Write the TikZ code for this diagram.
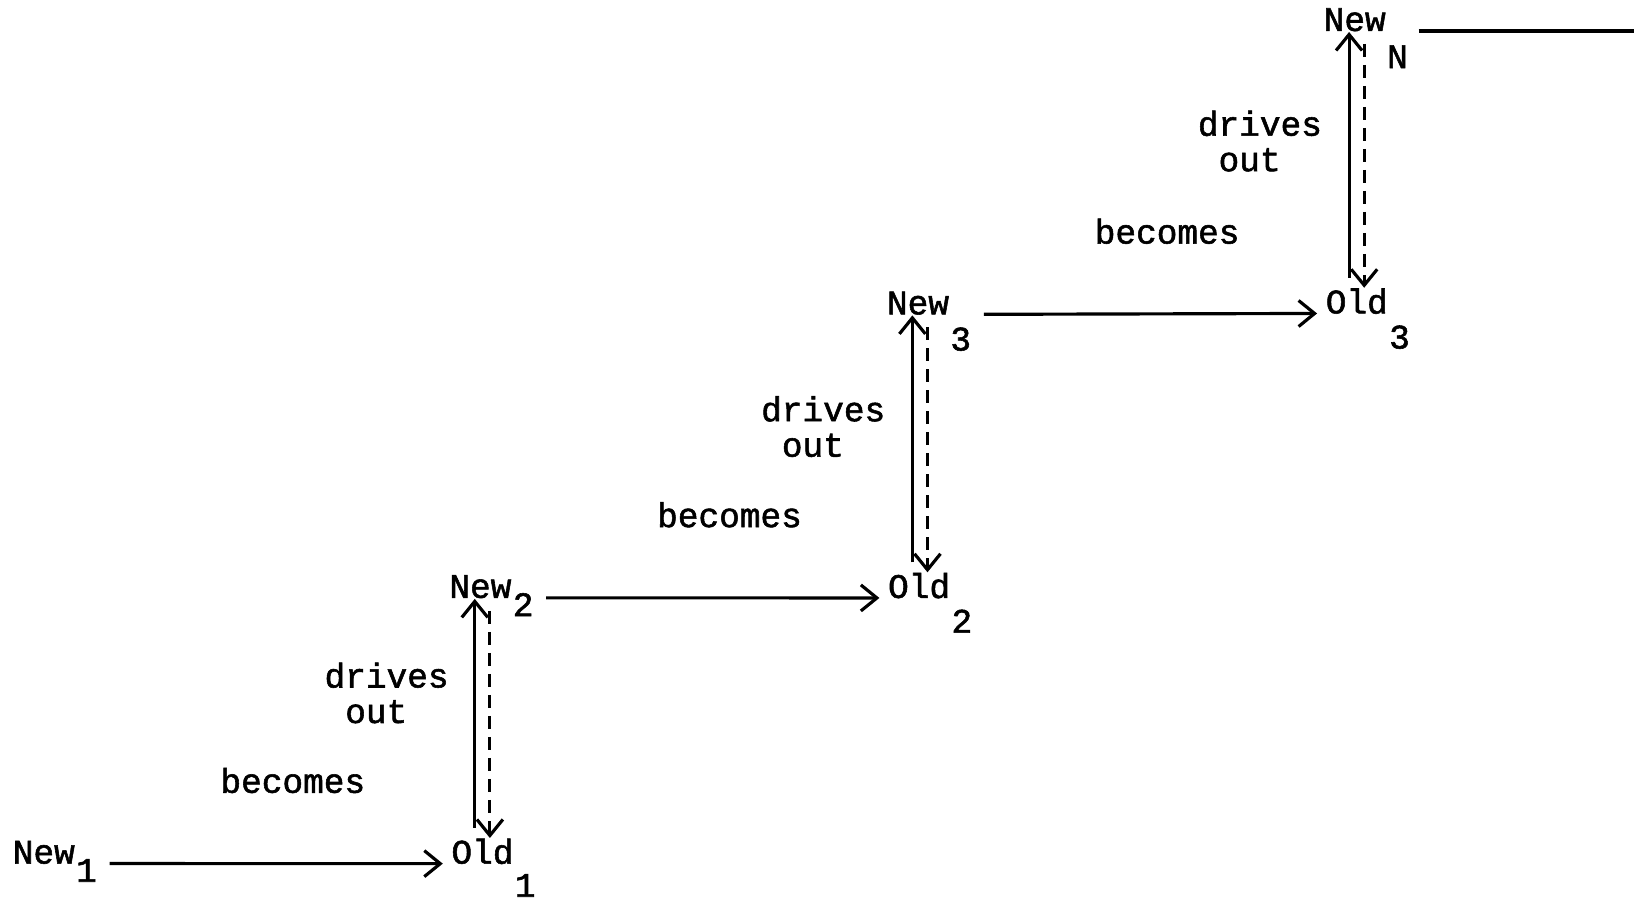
\documentclass[tikz,border=0pt]{standalone}
\usepackage{fontspec}
\newfontfamily\typefont[FakeBold=1.6,AutoFakeBold=1.6]{Liberation Mono}
\usepackage{tikz}
\usetikzlibrary{arrows.meta, positioning}

\begin{document}
\begin{tikzpicture}[
        word/.style={inner sep=0pt, font=\typefont\bfseries\fontsize{9.8}{10.1}\selectfont},
        note/.style={word, align=left},
        arrow/.style={-{Straight Barb[length=1.6mm, width=2.6mm]}, line width=0.9pt, draw=black},
        darrow/.style={arrow, dash pattern=on 1.3mm off 0.8mm},
        hgap/.style={shorten <=0.12cm, shorten >=0.08cm}
    ]
        \useasboundingbox (0,0) rectangle (16.34,8.99);

        % words of the staircase
        \node[word] (new1) at (0.438,0.466) {New};
        \node[word] (old1) at (4.825,0.476) {Old};
        \node[word] (new2) at (4.804,3.123) {New};
        \node[word] (old2) at (9.191,3.133) {Old};
        \node[word] (new3) at (9.180,5.958) {New};
        \node[word] (old3) at (13.568,5.978) {Old};
        \node[word] (newN) at (13.547,8.792) {New};

        % typed subscripts
        \node[word, right=0pt of new1, yshift=-1.8mm] (new1s) {1};
        \node[word, right=0pt of old1, yshift=-3.4mm] (old1s) {1};
        \node[word, right=0pt of new2, yshift=-1.8mm] (new2s) {2};
        \node[word, right=0pt of old2, yshift=-3.55mm] (old2s) {2};
        \node[word, right=0pt of new3, yshift=-3.6mm] (new3s) {3};
        \node[word, right=0pt of old3, yshift=-3.6mm] (old3s) {3};
        \node[word, right=0pt of newN, yshift=-3.7mm] (newNs) {N};

        \node[note] (drives1) at (3.866,2.060) {drives\\\phantom{d}out};
        \node[note] (drives2) at (8.232,4.723) {drives\\\phantom{d}out};
        \node[note] (drives3) at (12.599,7.578) {drives\\\phantom{d}out};
        \node[word] (becomes1) at (2.928,1.185) {becomes};
        \node[word] (becomes2) at (7.295,3.842) {becomes};
        \node[word] (becomes3) at (11.671,6.677) {becomes};

        \coordinate (rim) at (16.34,0);

        \draw[arrow, hgap] (new1s.east |- new1.base) -- (old1.base west);
        \draw[arrow, hgap] (new2s.east |- new2.base) -- (old2.base west);
        \draw[arrow, hgap] (new3s.east |- new3.base) -- (old3.base west);
        \draw[line width=0.9pt, shorten <=0.1cm] (newNs.east |- newN.base) -- (newN.base -| rim);

        \draw[arrow, shorten <=0.1cm] ([xshift=-1.6pt]new2.south |- old1.north) -- ([xshift=-1.6pt]new2.south);
        \draw[darrow, shorten <=0.12cm] ([xshift=2.7pt]new2.south) -- ([xshift=2.7pt]new2.south |- old1.north);
        \draw[arrow, shorten <=0.1cm] ([xshift=-1.6pt]new3.south |- old2.north) -- ([xshift=-1.6pt]new3.south);
        \draw[darrow, shorten <=0.12cm] ([xshift=2.7pt]new3.south) -- ([xshift=2.7pt]new3.south |- old2.north);
        \draw[arrow, shorten <=0.1cm] ([xshift=-1.6pt]newN.south |- old3.north) -- ([xshift=-1.6pt]newN.south);
        \draw[darrow, shorten <=0.12cm] ([xshift=2.7pt]newN.south) -- ([xshift=2.7pt]newN.south |- old3.north);
    \end{tikzpicture}
\end{document}
